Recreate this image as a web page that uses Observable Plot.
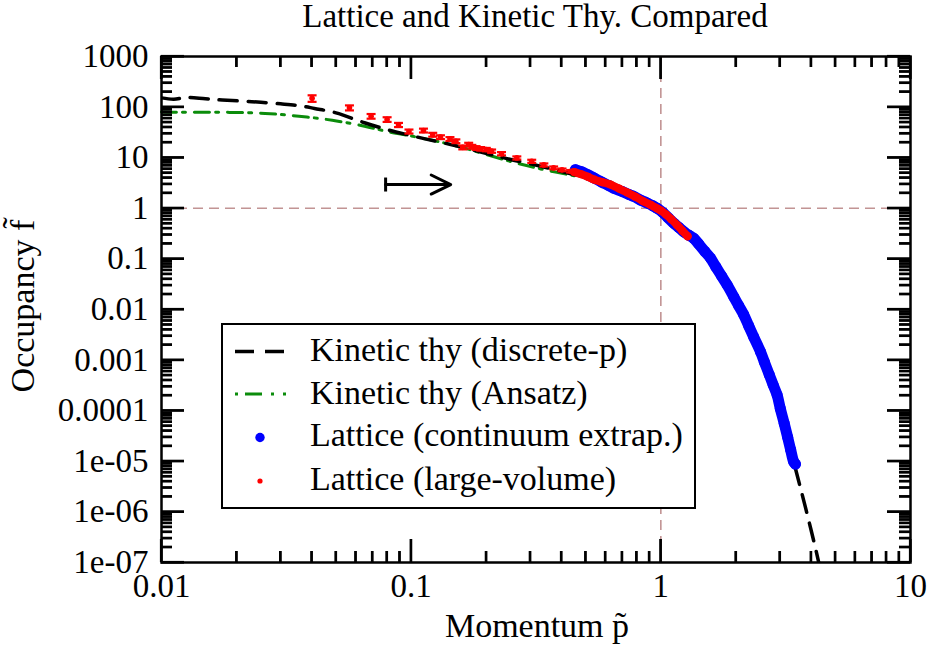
<!DOCTYPE html>
<html><head><meta charset="utf-8">
<script src="https://cdn.jsdelivr.net/npm/d3@7"></script>
<script src="https://cdn.jsdelivr.net/npm/@observablehq/plot@0.6"></script>
<style>
body{margin:0;background:#fff;}
#chart{width:929px;height:653px;}
</style></head><body><div id="chart"></div>
<script>
// ---- data ----
const kineticX = [0.010, 0.0112, 0.0125, 0.015, 0.0175, 0.023, 0.030, 0.036, 0.041, 0.050, 0.065, 0.080, 0.098, 0.116, 0.144, 0.19, 0.242, 0.33, 0.448, 0.539, 0.648, 0.779, 0.967, 1.126, 1.355, 1.58, 1.842, 2.148, 2.506, 2.922, 3.405, 3.8, 4.29, 4.5];
const kineticY = [152, 143, 155, 146, 138, 128, 116, 106, 94, 77, 49, 36, 28, 23, 18.2, 13, 9.6, 6.8, 4.65, 3.7, 2.5, 1.72, 1.0, 0.51, 0.255, 0.104, 0.0308, 0.0079, 0.00147, 0.000205, 0.0000098, 0.0000012, 0.0000001, 0.00000003];

const ansatzX = [0.010, 0.0114, 0.0175, 0.026, 0.0355, 0.0483, 0.065, 0.08, 0.109, 0.153, 0.242, 0.33, 0.45];
const ansatzY = [80, 79, 79, 75, 66, 55, 42, 33, 24.7, 16.9, 8.8, 6.0, 4.4];

const contX = [0.455, 0.48, 0.51, 0.539, 0.58, 0.62, 0.648, 0.70, 0.75, 0.779, 0.83, 0.88, 0.93, 0.967, 1.02, 1.07, 1.126, 1.18, 1.24, 1.30, 1.355, 1.42, 1.50, 1.58, 1.66, 1.75, 1.842, 1.96, 2.05, 2.148, 2.25, 2.355, 2.506, 2.6, 2.72, 2.82, 2.922, 3.01, 3.12, 3.22, 3.31, 3.405, 3.46];
const contY = [5.8, 5.3, 4.6, 4.0, 3.3, 2.8, 2.5, 2.15, 1.85, 1.72, 1.45, 1.28, 1.12, 1.0, 0.82, 0.65, 0.51, 0.42, 0.34, 0.29, 0.255, 0.195, 0.141, 0.104, 0.070, 0.046, 0.0308, 0.0178, 0.0119, 0.0079, 0.0047, 0.00285, 0.00147, 0.00091, 0.00051, 0.00032, 0.000205, 0.00011, 0.000056, 0.00003, 0.000017, 0.0000098, 0.0000088];

const largeX = [0.0401, 0.0566, 0.0691, 0.0801, 0.089, 0.098, 0.112, 0.122, 0.131, 0.143, 0.151, 0.161, 0.170, 0.175, 0.182, 0.19, 0.200, 0.21, 0.230, 0.265, 0.304, 0.340, 0.372, 0.402, 0.435];
const largeY = [149, 97, 66, 57, 44.5, 33, 34.5, 28.5, 25.5, 23.5, 21.2, 16, 18.2, 16.5, 15.6, 15.0, 14.5, 13.5, 12.0, 9.9, 8.5, 7.2, 6.3, 5.75, 5.4];
const largeErr = [22, 11, 7, 6, 4.2, 3, 3, 2.5, 2.2, 2, 1.8, 1.4, 1.5, 1.4, 1.3, 1.2, 1.1, 1.0, 0.9, 0.7, 0.6, 0.5, 0.4, 0.35, 0.3];

const largeBandX = [0.45, 0.48, 0.51, 0.54, 0.58, 0.628, 0.68, 0.733, 0.79, 0.85, 0.91, 0.967, 1.0, 1.05, 1.10, 1.16, 1.22, 1.28];
const largeBandY = [5.2, 4.7, 4.2, 3.7, 3.3, 2.95, 2.45, 2.05, 1.7, 1.38, 1.17, 0.99, 0.9, 0.75, 0.61, 0.47, 0.36, 0.28];

const arrowFrom = 0.079, arrowTo = 0.144, arrowAt = 2.95;

const xMajor = [0.01, 0.1, 1, 10];
const xTickLabels = ["0.01", "0.1", "1", "10"];
const yMajor = [1e-7, 1e-6, 1e-5, 1e-4, 1e-3, 0.01, 0.1, 1, 10, 100, 1000];
const yTickLabels = ["1e-07", "1e-06", "1e-05", "0.0001", "0.001", "0.01", "0.1", "1", "10", "100", "1000"];
const minorMult = [2, 3, 4, 5, 6, 7, 8, 9];

const titleText = "Lattice and Kinetic Thy. Compared";
const xLabel = "Momentum p\u0303";
const yLabel = "Occupancy f\u0303";
const legendLabels = ["Kinetic thy (discrete-p)", "Kinetic thy (Ansatz)", "Lattice (continuum extrap.)", "Lattice (large-volume)"];

// ---- tables ----
const zipXY = (xs, ys) => xs.map((x, i) => ({x, y: ys[i]}));
const kinetic = zipXY(kineticX, kineticY);
const ansatz = zipXY(ansatzX, ansatzY);
const cont = zipXY(contX, contY);
const large = largeX.map((x, i) => ({x, y: largeY[i], e: largeErr[i]}));
const largeBand = zipXY(largeBandX, largeBandY);
const xMinor = xMajor.slice(0, -1).flatMap(d => minorMult.map(m => d * m));
const yMinor = yMajor.slice(0, -1).flatMap(d => minorMult.map(m => d * m));

// ---- layout ----
const W = 929, H = 653, mL = 161, mR = 19, mT = 56, mB = 91;
const fW = W - mL - mR, fH = H - mT - mB;
const major = 23, minor = 11;
const FONT = "'Liberation Serif', serif";
const BLUE = "#0000ff", RED = "#ff0000", GREEN = "#0b8c0b", REF = "#c29494";

const hbar = {draw(ctx, size) { const r = Math.sqrt(size / Math.PI); ctx.moveTo(-r, 0); ctx.lineTo(r, 0); }};
const vbar = {draw(ctx, size) { const r = Math.sqrt(size / Math.PI); ctx.moveTo(0, -r); ctx.lineTo(0, r); }};

const tk = {stroke: "#000000", strokeWidth: 2.2};

const chart = Plot.plot({
  width: W, height: H,
  marginLeft: mL, marginRight: mR, marginTop: mT, marginBottom: mB,
  style: {fontFamily: FONT, fontSize: "33px", background: "white", color: "black"},
  x: {type: "log", domain: [0.01, 10]},
  y: {type: "log", domain: [1e-7, 1000]},
  marks: [
    Plot.ruleX([1], {stroke: REF, strokeWidth: 1.6, strokeDasharray: "10,6"}),
    Plot.ruleY([1], {stroke: REF, strokeWidth: 1.6, strokeDasharray: "10,6"}),
    Plot.line(ansatz, {x: "x", y: "y", stroke: GREEN, strokeWidth: 3, strokeDasharray: "15,6,3,9", curve: "catmull-rom"}),
    Plot.line(kinetic, {x: "x", y: "y", stroke: "black", strokeWidth: 3.5, strokeDasharray: "18,11", curve: "catmull-rom", clip: true}),
    Plot.line(cont, {x: "x", y: "y", stroke: BLUE, strokeWidth: 11, strokeLinecap: "round", strokeLinejoin: "round", curve: "catmull-rom"}),
    Plot.dot(cont, {x: "x", y: "y", r: 5.5, fill: BLUE}),
    Plot.ruleX(large, {x: "x", y1: d => d.y - d.e, y2: d => d.y + d.e, stroke: RED, strokeWidth: 2.2}),
    Plot.dot(large, {x: "x", y: d => d.y - d.e, symbol: hbar, r: 4.5, stroke: RED, strokeWidth: 2.2, fill: "none"}),
    Plot.dot(large, {x: "x", y: d => d.y + d.e, symbol: hbar, r: 4.5, stroke: RED, strokeWidth: 2.2, fill: "none"}),
    Plot.dot(large, {x: "x", y: "y", r: 2.8, fill: RED}),
    Plot.line(largeBand, {x: "x", y: "y", stroke: RED, strokeWidth: 8, strokeLinecap: "round", strokeLinejoin: "round", curve: "catmull-rom"}),
    Plot.dot(largeBand, {x: "x", y: "y", r: 4, fill: RED}),
    Plot.arrow([{x1: arrowFrom, x2: arrowTo, y: arrowAt}], {x1: "x1", x2: "x2", y1: "y", y2: "y", stroke: "black", strokeWidth: 3, headLength: 17, headAngle: 52}),
    Plot.dot([{x: arrowFrom, y: arrowAt}], {x: "x", y: "y", symbol: vbar, r: 7, stroke: "black", strokeWidth: 3, fill: "none"}),
    Plot.frame({stroke: "black", strokeWidth: 2.5}),
    Plot.axisX({anchor: "bottom", ticks: xMajor, tickFormat: d => xTickLabels[xMajor.indexOf(d)], tickSize: 0, tickPadding: 11, fontSize: 33, label: null}),
    Plot.axisY({anchor: "left", ticks: yMajor, tickFormat: d => yTickLabels[yMajor.indexOf(d)], tickSize: 0, tickPadding: 13, fontSize: 33, label: null}),
    // inward ticks, bottom / top / left / right
    Plot.ruleX(xMajor, {x: d => d, insetTop: fH - major, ...tk}),
    Plot.ruleX(xMinor, {x: d => d, insetTop: fH - minor, ...tk}),
    Plot.ruleX(xMajor, {x: d => d, insetBottom: fH - major, ...tk}),
    Plot.ruleX(xMinor, {x: d => d, insetBottom: fH - minor, ...tk}),
    Plot.ruleY(yMajor, {y: d => d, insetRight: fW - major, ...tk}),
    Plot.ruleY(yMinor, {y: d => d, insetRight: fW - minor, ...tk}),
    Plot.ruleY(yMajor, {y: d => d, insetLeft: fW - major, ...tk}),
    Plot.ruleY(yMinor, {y: d => d, insetLeft: fW - minor, ...tk})
  ]
});
document.getElementById("chart").appendChild(chart);

const svg = d3.select(chart);
// backup ticks placed with Plot's own scales (drawn on the same spots)
try {
  const sx = chart.scale("x"), sy = chart.scale("y");
  const bx = H - mB, tx = mT, lx = mL, rx = W - mR;
  const ln = (a, b, c, d) => svg.append("line").attr("x1", a).attr("y1", b).attr("x2", c).attr("y2", d)
    .attr("style", "stroke:#000;stroke-width:2.2px");
  [[xMajor, major], [xMinor, minor]].forEach(([vals, len]) => vals.forEach(v => {
    const p = sx.apply(v); if (!isFinite(p)) return;
    ln(p, bx, p, bx - len); ln(p, tx, p, tx + len);
  }));
  [[yMajor, major], [yMinor, minor]].forEach(([vals, len]) => vals.forEach(v => {
    const p = sy.apply(v); if (!isFinite(p)) return;
    ln(lx, p, lx + len, p); ln(rx, p, rx - len, p);
  }));
} catch (e) {}

// ---- title, axis titles, legend ----
const txt = (x, y, s, size, anchor) => svg.append("text")
  .attr("x", x).attr("y", y).attr("text-anchor", anchor)
  .attr("font-family", FONT).attr("font-size", size).attr("fill", "black").text(s);
txt(535, 27, titleText, 33, "middle");
txt(537, 637, xLabel, 34, "middle");
svg.append("text").attr("transform", "translate(34,306) rotate(-90)")
  .attr("text-anchor", "middle").attr("font-family", FONT).attr("font-size", 34).attr("fill", "black").text(yLabel);

const lg = svg.append("g");
lg.append("rect").attr("x", 222).attr("y", 324).attr("width", 473).attr("height", 184)
  .attr("fill", "white").attr("stroke", "black").attr("stroke-width", 2);
const rowBase = [360.5, 404, 445.5, 490];
rowBase.forEach((b, i) => {
  lg.append("text").attr("x", 310).attr("y", b).attr("text-anchor", "start")
    .attr("font-family", FONT).attr("font-size", 34)
    .attr("fill", "black").text(legendLabels[i]);
});
lg.append("line").attr("x1", 235).attr("x2", 284).attr("y1", rowBase[0] - 9).attr("y2", rowBase[0] - 9)
  .attr("stroke", "black").attr("stroke-width", 3.5).attr("stroke-dasharray", "19,11");
lg.append("line").attr("x1", 235).attr("x2", 286).attr("y1", rowBase[1] - 10).attr("y2", rowBase[1] - 10)
  .attr("stroke", GREEN).attr("stroke-width", 3).attr("stroke-dasharray", "3,7,17,9,3,9,3");
lg.append("circle").attr("cx", 260).attr("cy", rowBase[2] - 8).attr("r", 4.7).attr("fill", BLUE);
lg.append("circle").attr("cx", 260).attr("cy", rowBase[3] - 9).attr("r", 2.6).attr("fill", RED);
</script>
</body></html>
